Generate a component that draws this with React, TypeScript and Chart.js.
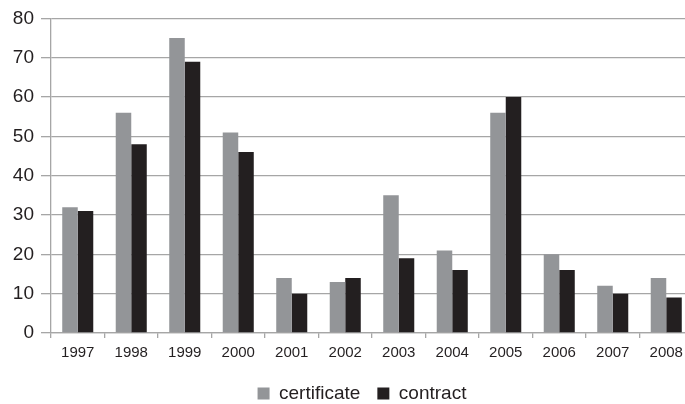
import React, { useEffect, useRef } from "react";
import { Chart, registerables } from "chart.js";

Chart.register(...registerables);

const years = ["1997", "1998", "1999", "2000", "2001", "2002", "2003", "2004", "2005", "2006", "2007", "2008"];
const certificate = [32, 56, 75, 51, 14, 13, 35, 21, 56, 20, 12, 14];
const contract = [31, 48, 69, 46, 10, 14, 19, 16, 60, 16, 10, 9];
const seriesNames = ["certificate", "contract"];
const yTicksMax = 80;
const yStep = 10;

const LEGEND_HEIGHT = 37;

const legendSizePlugin = {
  id: "legendSize",
  beforeLayout(chart: any) {
    const lg = chart.legend;
    if (lg && !lg.__patched) {
      const orig = lg.fit.bind(lg);
      lg.fit = function () {
        orig();
        this.height = LEGEND_HEIGHT;
      };
      lg.__patched = true;
    }
  },
};

export default function App() {
  const ref = useRef<HTMLCanvasElement | null>(null);

  useEffect(() => {
    document.body.style.margin = "0";
    if (!ref.current) return;
    const font = "'Liberation Sans', Arial, Helvetica, sans-serif";
    const chart = new Chart(ref.current, {
      type: "bar",
      data: {
        labels: years,
        datasets: [
          {
            label: seriesNames[0],
            data: certificate,
            backgroundColor: "#939598",
            categoryPercentage: 0.58,
            barPercentage: 1,
          },
          {
            label: seriesNames[1],
            data: contract,
            backgroundColor: "#231f20",
            categoryPercentage: 0.58,
            barPercentage: 1,
          },
        ],
      },
      plugins: [legendSizePlugin],
      options: {
        animation: false,
        responsive: false,
        devicePixelRatio: 1,
        layout: { padding: { top: 17, right: 0, left: 0, bottom: 0 } },
        plugins: {
          legend: {
            position: "bottom",
            labels: {
              font: { family: font, size: 19 },
              color: "#231f20",
              boxWidth: 12,
              boxHeight: 12,
              padding: 17,
            },
          },
          tooltip: { enabled: false },
        },
        scales: {
          x: {
            grid: {
              display: true,
              drawOnChartArea: false,
              drawTicks: true,
              tickLength: 5,
              color: "#a6a6a6",
              lineWidth: 1.3,
              offset: true,
            },
            border: { display: true, color: "#a6a6a6", width: 1.3 },
            ticks: {
              font: { family: font, size: 15 },
              color: "#231f20",
              padding: 6,
              maxRotation: 0,
              autoSkip: false,
            },
            afterFit: (s: any) => {
              s.height = 34;
            },
          },
          y: {
            min: 0,
            max: yTicksMax,
            grid: {
              color: "#a6a6a6",
              lineWidth: 1.3,
              tickLength: 10,
            },
            border: { display: true, color: "#a6a6a6", width: 1.3 },
            ticks: {
              stepSize: yStep,
              font: { family: font, size: 19 },
              color: "#231f20",
              padding: 7,
            },
            afterFit: (s: any) => {
              s.width = 51;
            },
          },
          spacer: {
            type: "linear",
            position: "right",
            display: true,
            grid: { display: false, drawTicks: false },
            border: { display: false },
            ticks: { display: false },
            afterFit: (s: any) => {
              s.width = 31;
            },
          },
        },
      },
    });
    return () => chart.destroy();
  }, []);

  return (
    <div style={{ width: 685, height: 404, overflow: "hidden", position: "relative", background: "#fff" }}>
      <canvas ref={ref} width={724} height={404} style={{ display: "block" }} />
    </div>
  );
}
